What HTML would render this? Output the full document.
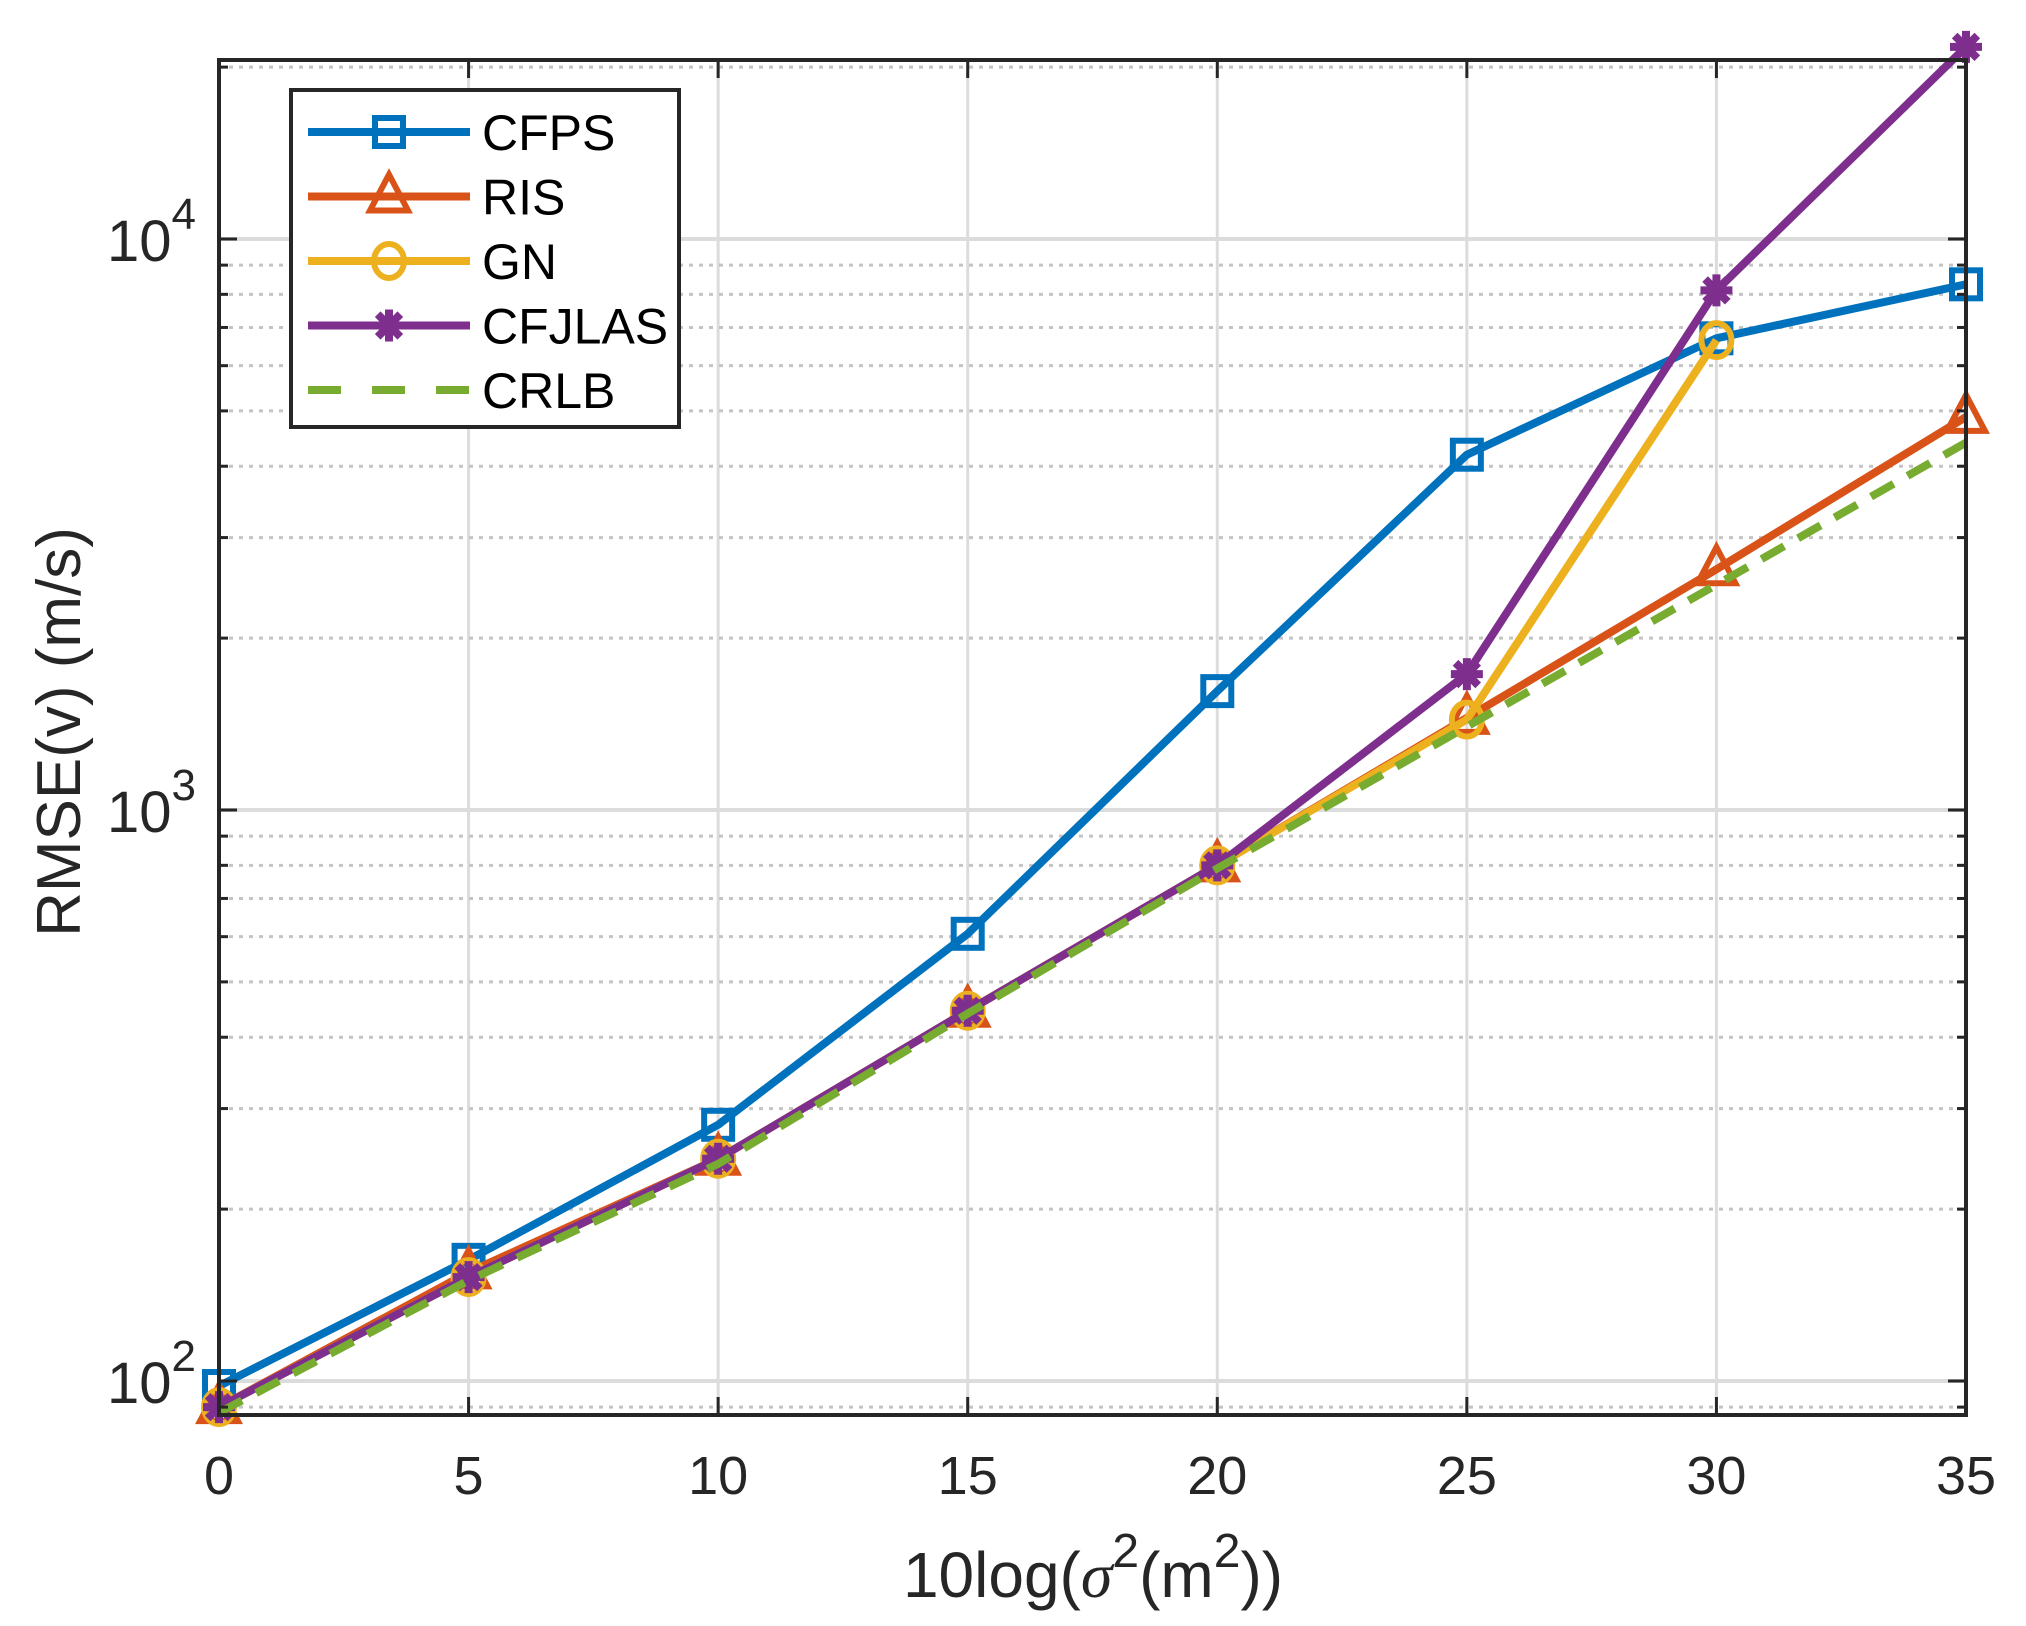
<!DOCTYPE html>
<html><head><meta charset="utf-8"><style>
html,body{margin:0;padding:0;background:#fff;}
svg{display:block;font-family:"Liberation Sans",Arial,sans-serif;}
</style></head><body>
<svg id="chart" width="2026" height="1626" viewBox="0 0 2026 1626" xmlns="http://www.w3.org/2000/svg">
<rect width="2026" height="1626" fill="#fff"/>
<g id="grid"></g>
<g id="series"></g>
<g id="axes"></g>
<g id="legend"></g>
</svg>
<script>
const xCats = [0,5,10,15,20,25,30,35];
const xTickLabels = ["0","5","10","15","20","25","30","35"];
const cfps = [98,163,281,607,1615,4190,6700,8330];
const ris = [90,155,245,445,800,1450,2640,4880];
const gn = [90,152,245,445,800,1440,6650,null];
const cfjlas = [90,152,245,445,800,1730,8130,21700];
const crlb = [88,150,240,440,790,1400,2480,4400];
const yDecades = [2,3,4];

const L=219,R=1966,T=60,B=1415;
const Y4=239,DEC=571;
const NS="http://www.w3.org/2000/svg";
function X(v){return L+(v-0)/(35-0)*(R-L);}
function Y(v){return Y4+(4-Math.log10(v))*DEC;}
function el(tag,attrs,parent){const e=document.createElementNS(NS,tag);for(const k in attrs)e.setAttribute(k,attrs[k]);parent.appendChild(e);return e;}
const grid=document.getElementById('grid'),ser=document.getElementById('series'),axes=document.getElementById('axes'),leg=document.getElementById('legend');

xCats.forEach(v=>{const g=el('line',{x1:X(v),x2:X(v),y1:T,y2:B,stroke:'#dcdcdc','stroke-width':3},grid);

});
for(let d=1;d<=5;d++){for(let m=1;m<10;m++){const v=m*Math.pow(10,d);const y=Y(v);if(y<T||y>B)continue;
const g=el('line',{x1:L,x2:R,y1:y,y2:y,stroke:m===1?'#dcdcdc':'#c4c4c4','stroke-width':m===1?4:3,'stroke-dasharray':m===1?'none':'4 6'},grid);


const t1=el('line',{x1:L,x2:L+(m===1?18:9),y1:y,y2:y,stroke:'#262626','stroke-width':3},axes);


const t2=el('line',{x1:R,x2:R-(m===1?18:9),y1:y,y2:y,stroke:'#262626','stroke-width':3},axes);

}}

const clip=el('clipPath',{id:'cp'},document.getElementById('chart'));
el('rect',{x:L-40,y:T-40,width:R-L+80,height:B-T+80},clip);
ser.setAttribute('clip-path','url(#cp)');

function line(data,color,name,dash){let pts=[];data.forEach((v,i)=>{if(v!=null)pts.push(X(xCats[i])+','+Y(v));});
const p=el('polyline',{points:pts.join(' '),fill:'none',stroke:color,'stroke-width':8,'stroke-linejoin':'round','stroke-dasharray':dash||'none'},ser);

}
function marker(kind,x,y,color,parent){let m;
if(kind==='sq'){m=el('rect',{x:x-14,y:y-14,width:28,height:28,fill:'none',stroke:color,'stroke-width':6},parent);}
else if(kind==='tri'){m=el('polygon',{points:`${x},${y-22} ${x-19},${y+14} ${x+19},${y+14}`,fill:'none',stroke:color,'stroke-width':6},parent);}
else if(kind==='circ'){m=el('ellipse',{cx:x,cy:y,rx:15,ry:17,fill:'none',stroke:color,'stroke-width':6},parent);}
else{m=el('g',{},parent);for(let a=0;a<4;a++){const ang=a*Math.PI/4;el('line',{x1:x-16*Math.cos(ang),y1:y-16*Math.sin(ang),x2:x+16*Math.cos(ang),y2:y+16*Math.sin(ang),stroke:color,'stroke-width':8},m);}el('circle',{cx:x,cy:y,r:10,fill:color},m);}
return m;}
function markers(data,kind,color,name){data.forEach((v,i)=>{if(v==null)return;const m=marker(kind,X(xCats[i]),Y(v),color,ser);

});}

const C={cfps:'#0072BD',ris:'#D95319',gn:'#EDB120',cfj:'#7E2F8E',crlb:'#77AC30'};
line(cfps,C.cfps,'cfps');markers(cfps,'sq',C.cfps,'cfps');
line(ris,C.ris,'ris');markers(ris,'tri',C.ris,'ris');
line(gn,C.gn,'gn');markers(gn,'circ',C.gn,'gn');
line(cfjlas,C.cfj,'cfjlas');markers(cfjlas,'star',C.cfj,'cfjlas');
line(crlb,C.crlb,'crlb','26 16');

const box=el('rect',{x:L,y:T,width:R-L,height:B-T,fill:'none',stroke:'#262626','stroke-width':4},axes);


xCats.forEach((v,i)=>{const x=X(v);
const t=el('line',{x1:x,x2:x,y1:B,y2:B-18,stroke:'#262626','stroke-width':3},axes);


const t2=el('line',{x1:x,x2:x,y1:T,y2:T+18,stroke:'#262626','stroke-width':3},axes);


const tx=el('text',{x:x,y:1494,'font-size':54,'text-anchor':'middle',fill:'#262626'},axes);tx.textContent=xTickLabels[i];

});
yDecades.forEach(d=>{const y=Y(Math.pow(10,d));
const tx=el('text',{x:196,y:y+22,'font-size':58,'text-anchor':'end',fill:'#262626'},axes);
tx.innerHTML='10<tspan dy="-32" font-size="44">'+d+'</tspan>';

});
const xl=el('text',{x:1093,y:1597,'font-size':64,'text-anchor':'middle',fill:'#262626'},axes);
xl.innerHTML='10log(<tspan font-family="Liberation Serif" font-style="italic">σ</tspan><tspan dy="-30" font-size="48">2</tspan><tspan dy="30">(m</tspan><tspan dy="-30" font-size="48">2</tspan><tspan dy="30">))</tspan>';


const yl=el('text',{x:0,y:0,'font-size':62,'text-anchor':'middle',fill:'#262626',transform:'translate(80,732) rotate(-90)'},axes);
yl.textContent='RMSE(v) (m/s)';



const lb=el('rect',{x:291,y:90,width:388,height:337,fill:'#fff',stroke:'#262626','stroke-width':4},leg);


const entries=[['CFPS',C.cfps,'sq'],['RIS',C.ris,'tri'],['GN',C.gn,'circ'],['CFJLAS',C.cfj,'star'],['CRLB',C.crlb,null]];
entries.forEach((e,i)=>{const y=132+i*64.5;const g=el('g',{},leg);


el('line',{x1:308,x2:470,y1:y,y2:y,stroke:e[1],'stroke-width':8,'stroke-dasharray':e[2]?'none':'33 31'},g);
if(e[2])marker(e[2],389,y,e[1],g);
const t=el('text',{x:482,y:y+18,'font-size':50,fill:'#000'},g);t.textContent=e[0];});
</script>
</body></html>
